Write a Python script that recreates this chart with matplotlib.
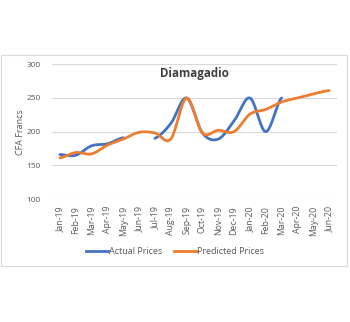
import numpy as np
import matplotlib
matplotlib.use("Agg")
import matplotlib.pyplot as plt
from matplotlib.lines import Line2D
from matplotlib.patches import Rectangle

months = ["Jan-19", "Feb-19", "Mar-19", "Apr-19", "May-19", "Jun-19", "Jul-19", "Aug-19",
          "Sep-19", "Oct-19", "Nov-19", "Dec-19", "Jan-20", "Feb-20", "Mar-20", "Apr-20",
          "May-20", "Jun-20"]
actual = [166, 165, 179, 182, 191, None, 190, 212, 250, 198, 189, 216, 250, 200, 250,
          None, None, None]
predicted = [161, 169, 167, 180, 189, 199, 198, 189, 250, 198, 202, 200, 226, 233, 244,
             250, 256, 261]

BLUE = "#4472C4"
ORANGE = "#ED7D31"
GREY = "#595959"

plt.rcParams['font.family'] = ['Open Sans', 'DejaVu Sans']


def smooth(xs, ys, n=20):
    """Bezier smoothing between known points (rendering only)."""
    xs = np.asarray(xs, float)
    ys = np.asarray(ys, float)
    if len(xs) < 2:
        return xs, ys
    px = np.concatenate([[2 * xs[0] - xs[1]], xs, [2 * xs[-1] - xs[-2]]])
    py = np.concatenate([[ys[0]], ys, [ys[-1]]])
    outx, outy = [], []
    t = np.linspace(0, 1, n)
    for i in range(1, len(px) - 2):
        x0, x1, x2, x3 = px[i - 1:i + 3]
        y0, y1, y2, y3 = py[i - 1:i + 3]
        k = 1 / 6
        c1x, c1y = x1 + (x2 - x0) * k, y1 + (y2 - y0) * k
        c2x, c2y = x2 - (x3 - x1) * k, y2 - (y3 - y1) * k
        bx = (1 - t) ** 3 * x1 + 3 * (1 - t) ** 2 * t * c1x + 3 * (1 - t) * t ** 2 * c2x + t ** 3 * x2
        by = (1 - t) ** 3 * y1 + 3 * (1 - t) ** 2 * t * c1y + 3 * (1 - t) * t ** 2 * c2y + t ** 3 * y2
        outx.extend(bx if i == 1 else bx[1:])
        outy.extend(by if i == 1 else by[1:])
    return np.array(outx), np.array(outy)


def segments(vals):
    segs, cur = [], []
    for i, v in enumerate(vals):
        if v is None:
            if cur:
                segs.append(cur)
            cur = []
        else:
            cur.append((i, v))
    if cur:
        segs.append(cur)
    return segs


fig = plt.figure(figsize=(3.5, 3.22), dpi=100)
W, H = 350, 322
fig.patches.append(Rectangle((1 / W, 1 - 266 / H), 346 / W, (266 - 55) / H,
                             transform=fig.transFigure, fill=False,
                             edgecolor="#d9d9d9", linewidth=0.8))

ax = fig.add_axes([52 / W, 1 - 199 / H, (337 - 52) / W, (199 - 64.3) / H])
x = np.arange(len(months))

for vals, col in ((actual, BLUE), (predicted, ORANGE)):
    for seg in segments(vals):
        sx, sy = zip(*seg)
        if len(sx) == 1:
            continue
        xx, yy = smooth(sx, sy)
        ax.plot(xx, yy, color=col, linewidth=2, solid_capstyle="round")

ax.set_xlim(-0.5, len(months) - 0.5)
ax.set_ylim(100, 300)
ax.set_yticks([100, 150, 200, 250, 300])
ax.set_xticks(x)
ax.set_xticklabels(months, rotation=90, fontsize=6.3, color=GREY)
ax.tick_params(axis="y", labelsize=6, colors=GREY, length=0, pad=8)
ax.tick_params(axis="x", length=0, pad=5)
ax.grid(axis="y", color="#d9d9d9", linewidth=0.8)
ax.set_axisbelow(True)
for s in ax.spines.values():
    s.set_visible(False)
ax.set_ylabel("CFA Francs", fontsize=6.5, color=GREY, labelpad=1)
ax.text(0.5, 0.93, "Diamagadio", transform=ax.transAxes, ha="center", va="center",
        fontsize=8.3, fontweight="bold", color="#404040")

handles = [Line2D([], [], color=BLUE, linewidth=2),
           Line2D([], [], color=ORANGE, linewidth=2)]
fig.legend(handles, ["Actual Prices", "Predicted Prices"], loc="center",
           bbox_to_anchor=(175 / W, 1 - 252 / H), ncol=2, frameon=False,
           fontsize=6.5, labelcolor=GREY, handlelength=2.5, handletextpad=0.1,
           columnspacing=1.3)

fig.savefig("out.png", dpi=100, facecolor="white")
